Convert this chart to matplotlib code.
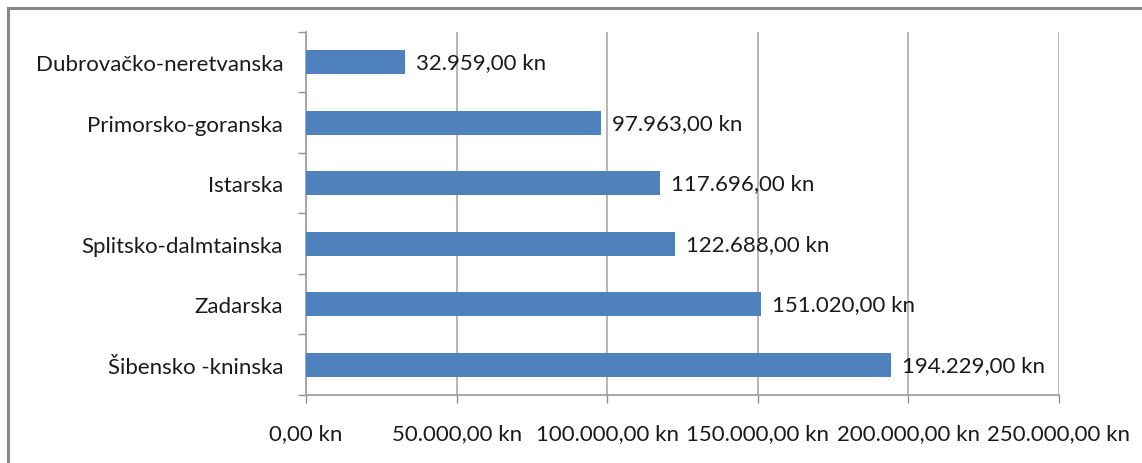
import matplotlib.pyplot as plt
from matplotlib.lines import Line2D
from matplotlib.ticker import FuncFormatter

counties = ["Šibensko -kninska", "Zadarska", "Splitsko-dalmtainska",
            "Istarska", "Primorsko-goranska", "Dubrovačko-neretvanska"]
amounts = [194229, 151020, 122688, 117696, 97963, 32959]
xticks = [0, 50000, 100000, 150000, 200000, 250000]


def kn(v):
    s = "{:,.2f}".format(v)
    s = s.replace(",", "X").replace(".", ",").replace("X", ".")
    return s + " kn"


plt.rcParams['font.family'] = ['Lato', 'DejaVu Sans']
fig = plt.figure(figsize=(11.42, 4.64), dpi=100)
ax = fig.add_axes([0.268, 0.1466, 0.659, 0.7824])

y = list(range(len(counties)))
ax.barh(y, amounts, height=0.4, color="#4F81BD", zorder=3)
for i, v in enumerate(amounts):
    ax.text(v + 3600, i, kn(v), va="center", ha="left", fontsize=16,
            color="#1a1a1a", zorder=4)

ax.set_xlim(0, 250000)
ax.set_ylim(-0.5, len(counties) - 0.5)
ax.set_xticks(xticks)
ax.xaxis.set_major_formatter(FuncFormatter(lambda v, p: kn(v)))
ax.set_yticks(y)
ax.set_yticklabels(counties)
ax.set_yticks([i - 0.5 for i in range(len(counties) + 1)], minor=True)
ax.tick_params(axis="y", which="major", length=0, pad=16.5, labelsize=16,
               labelcolor="#1a1a1a")
ax.tick_params(axis="y", which="minor", length=6, color="#909090", width=1)
ax.tick_params(axis="x", length=6, color="#909090", width=1, pad=14,
               labelsize=16, labelcolor="#1a1a1a")
ax.grid(axis="x", color="#b0b0b0", linewidth=1.3, zorder=0)
for s in ["top", "right"]:
    ax.spines[s].set_visible(False)
for s in ["left", "bottom"]:
    ax.spines[s].set_color("#a0a0a0")
    ax.spines[s].set_linewidth(1.3)

# frame of the chart (only top and left edge visible)
fig.add_artist(Line2D([8 / 1142, 8 / 1142], [0, 1 - 9 / 464],
                      transform=fig.transFigure, color="#888888", lw=2.2))
fig.add_artist(Line2D([8 / 1142, 1], [1 - 9 / 464, 1 - 9 / 464],
                      transform=fig.transFigure, color="#888888", lw=2.2))

fig.savefig("out.png", dpi=100)
